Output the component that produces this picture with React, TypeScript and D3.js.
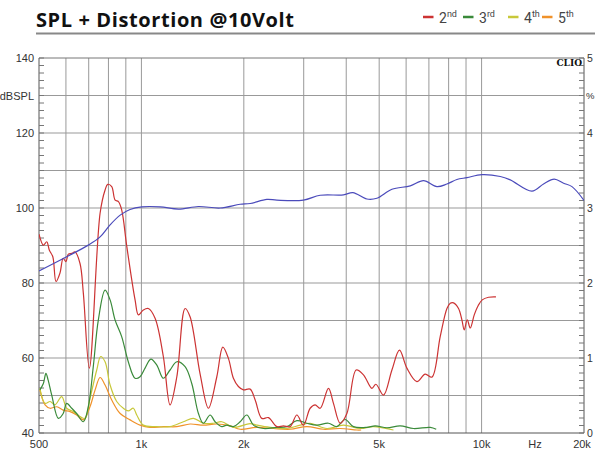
import React from "react";
import * as d3 from "d3";

// ---------- data ----------
const xTickLabels: [number, string][] = [
  [500, "500"], [1000, "1k"], [2000, "2k"], [5000, "5k"], [10000, "10k"], [20000, "20k"],
];
const xGridFreqs = [600, 700, 800, 900, 1000, 2000, 3000, 4000, 5000, 6000, 7000, 8000, 9000, 10000];
const yLeftLabels = [140, 120, 100, 80, 60, 40];
const yRightLabels = [5, 4, 3, 2, 1, 0];
const yGridValues = [50, 60, 70, 80, 90, 100, 110, 120, 130];

const splFreq = [500, 603, 698, 756, 809, 866, 926, 1002, 1135, 1285, 1471, 1704, 1951, 2087, 2338, 2501, 2994, 3354, 3926, 4185, 4600, 4922, 5450, 6170, 6750, 7390, 7910, 8460, 9060, 10020, 11350, 12140, 14060, 15210, 16350, 17420, 18440, 20000];
const splDb = [83.2, 87, 90.1, 92.3, 95.5, 98.1, 99.6, 100.3, 100.3, 99.7, 100.4, 100, 101, 101.2, 102.3, 102.1, 102.1, 103.4, 103.5, 104.1, 102.4, 102.6, 105, 105.9, 107.3, 105.7, 106.4, 107.6, 108.1, 108.9, 108.4, 107.5, 104.5, 106.4, 107.7, 106.6, 105.7, 102];

const h2Freq = [500, 515, 527, 536, 549, 561, 576, 589, 600, 610, 624, 638, 660, 675, 703, 756, 782, 796, 818, 837, 856, 875, 906, 958, 980, 1013, 1048, 1097, 1160, 1214, 1271, 1344, 1390, 1488, 1574, 1666, 1735, 1802, 1864, 1928, 1995, 2087, 2160, 2259, 2363, 2501, 2616, 2737, 2864, 2994, 3134, 3242, 3354, 3547, 3669, 3839, 4018, 4279, 4495, 4759, 4889, 5148, 5450, 5736, 6031, 6454, 6827, 7144, 7557, 7909, 8087, 8270, 8555, 8755, 8891, 9074, 9260, 9515, 9776, 10044, 10482, 11021];
const h2Db = [93, 90.1, 91, 88.8, 87, 80.4, 82.6, 86.6, 85.7, 87.7, 87.9, 88.3, 85.2, 77.3, 57.3, 98.6, 104.8, 106.3, 105.7, 102.1, 101.7, 99.5, 89.7, 75.5, 71.5, 72.8, 73.2, 70.6, 60.4, 47.5, 55, 73.2, 71, 55.7, 46.6, 55, 62.9, 59.9, 54.6, 52.4, 51.5, 51.7, 48.8, 43.9, 44.1, 41.7, 41.9, 41.7, 44.8, 42.1, 46.6, 47.5, 46.6, 51.9, 47.9, 42.6, 45.2, 56.8, 55.5, 51.9, 53, 50.1, 56.8, 62.1, 57.3, 53.7, 55.7, 54.9, 65.7, 73.2, 74.6, 74.7, 73.2, 70.1, 67.5, 70.2, 68, 71.5, 74, 75.5, 76.2, 76.3];

const h3Freq = [503, 515, 524, 532, 545, 570, 589, 603, 624, 645, 675, 698, 722, 747, 782, 809, 837, 875, 915, 958, 991, 1025, 1066, 1110, 1160, 1214, 1271, 1344, 1406, 1471, 1521, 1592, 1647, 1723, 1783, 1864, 1951, 2041, 2135, 2284, 2501, 2677, 2864, 3064, 3279, 3547, 3755, 3972, 4201, 4600, 4866, 5268, 5764, 6307, 7063, 7356];
const h3Db = [51.5, 53.2, 55.9, 54.1, 50.1, 43.9, 45.2, 47.9, 46.6, 45.2, 43, 47, 57.7, 70.1, 78.1, 75.5, 70.1, 65.7, 59, 54.6, 55, 57.3, 59.7, 58.1, 54.6, 56.8, 59, 57.7, 53.2, 45.2, 42.6, 44.8, 43, 41.7, 42.1, 41.7, 43, 44.8, 42.1, 41.2, 41.5, 41.7, 43.3, 42.6, 42.1, 42.6, 41.7, 43.6, 41.7, 41.5, 41.9, 41.4, 41.9, 41.2, 41.5, 41];

const h4Freq = [503, 521, 539, 557, 583, 603, 631, 660, 683, 706, 739, 759, 782, 809, 846, 885, 915, 947, 969, 1013, 1110, 1214, 1329, 1422, 1521, 1628, 1723, 1864, 2087, 2184, 2390, 2677, 2929, 3134, 3509, 3926, 4396, 4811, 5508];
const h4Db = [51.9, 47.9, 48.4, 47.5, 49.7, 46.6, 45.7, 44.4, 43.9, 49.2, 56.8, 60.4, 59, 52.8, 48.4, 46.6, 45.9, 46.6, 44.8, 42.1, 41.7, 41.7, 43, 43.9, 42.6, 42.6, 43, 41.5, 42.5, 42.1, 41.5, 41.2, 42.1, 42.6, 41.2, 42.1, 41.2, 41.7, 40.8];

const h5Freq = [503, 521, 539, 564, 589, 617, 645, 675, 706, 731, 756, 782, 818, 866, 926, 991, 1060, 1160, 1271, 1390, 1521, 1666, 1823, 1951, 2184, 2444, 2737, 3064, 3429, 3839, 4299, 4426];
const h5Db = [51.5, 47.5, 46.6, 47, 46.1, 45.7, 44.8, 43.5, 47, 51.5, 54.8, 52.8, 48.8, 45.2, 43.5, 42.1, 41.5, 41.7, 41.7, 42.4, 42.1, 42.4, 41.9, 41, 41.5, 41.2, 41, 41.7, 41, 41.2, 40.8, 40.8];

const legendItems = [
  { num: "2", sup: "nd", color: "#cc3333" },
  { num: "3", sup: "rd", color: "#3a8a3a" },
  { num: "4", sup: "th", color: "#c8c83a" },
  { num: "5", sup: "th", color: "#f0922a" },
];

// ---------- layout ----------
const W = 595, H = 450;
const L = 39, R = 584, T = 58, B = 433;

export default function App() {
  const x = d3.scaleLog().domain([500, 20000]).range([L, R]);
  const y = d3.scaleLinear().domain([40, 140]).range([B, T]);
  const yr = d3.scaleLinear().domain([0, 5]).range([B, T]);

  const line = d3
    .line<[number, number]>()
    .x((d) => x(d[0]))
    .y((d) => y(d[1]))
    .curve(d3.curveCatmullRom.alpha(0.5));

  const zip = (f: number[], v: number[]) => f.map((ff, i) => [ff, v[i]] as [number, number]);

  const series = [
    { f: h5Freq, v: h5Db, c: "#f0922a" },
    { f: h4Freq, v: h4Db, c: "#c8c83a" },
    { f: h3Freq, v: h3Db, c: "#3a8a3a" },
    { f: h2Freq, v: h2Db, c: "#cc3333" },
    { f: splFreq, v: splDb, c: "#4b4bbb" },
  ];

  const leftMinor = d3.range(40, 141, 2);
  const rightMinor = d3.range(0, 5.001, 0.1);

  const axisFont = "'Liberation Sans', Arial, sans-serif";
  const titleFont = "'Open Sans', Roboto, sans-serif";
  const legendFont = "Roboto, 'Noto Sans', sans-serif";

  const legendX = [423, 463, 508, 542];

  return (
    <svg width={W} height={H} style={{ position: "absolute", left: 0, top: 0, background: "#fff" }}>
      <rect x={0} y={0} width={W} height={H} fill="#fff" />
      {/* title */}
      <text x={36} y={26.5} fontFamily={titleFont} fontWeight={700} fontSize={20} letterSpacing={0.6} fill="#111">
        SPL + Distortion @10Volt
      </text>
      <line x1={36} x2={595} y1={33.5} y2={33.5} stroke="#888" strokeWidth={2} />
      {/* legend */}
      {legendItems.map((it, i) => (
        <g key={i}>
          <line x1={legendX[i]} x2={legendX[i] + 10.5} y1={17} y2={17} stroke={it.color} strokeWidth={2.5} />
          <text x={legendX[i] + 16} y={22.5} fontFamily={legendFont} fontSize={14} fill="#444">
            {it.num}
            <tspan fontSize={9} dy={-5.5}>{it.sup}</tspan>
          </text>
        </g>
      ))}

      {/* grid */}
      {yGridValues.map((v) => (
        <line key={"hg" + v} x1={L} x2={R} y1={y(v)} y2={y(v)} stroke="#999" strokeWidth={1} />
      ))}
      {xGridFreqs.map((f) => (
        <line key={"vg" + f} x1={x(f)} x2={x(f)} y1={T} y2={B} stroke="#999" strokeWidth={1} />
      ))}

      {/* frame */}
      <line x1={L} x2={R} y1={T} y2={T} stroke="#777" strokeWidth={1} />
      <line x1={L} x2={R} y1={B} y2={B} stroke="#555" strokeWidth={1} />
      <line x1={L} x2={L} y1={T} y2={B} stroke="#555" strokeWidth={1} />
      <line x1={R} x2={R} y1={T} y2={B} stroke="#555" strokeWidth={1} />
      {leftMinor.map((v) => (
        <line key={"lt" + v} x1={L} x2={L + 5} y1={y(v)} y2={y(v)} stroke="#777" strokeWidth={1} />
      ))}
      {rightMinor.map((v, i) => (
        <line key={"rt" + i} x1={R - 5} x2={R} y1={yr(v)} y2={yr(v)} stroke="#777" strokeWidth={1} />
      ))}

      {/* curves */}
      <defs>
        <clipPath id="plotclip">
          <rect x={L} y={T} width={R - L} height={B - T} />
        </clipPath>
      </defs>
      <g clipPath="url(#plotclip)">
        {series.map((s, i) => (
          <path key={i} d={line(zip(s.f, s.v)) || ""} fill="none" stroke={s.c} strokeWidth={1.2} />
        ))}
      </g>

      {/* CLIO */}
      <text x={582} y={65.5} textAnchor="end" fontFamily="'DejaVu Serif', 'Liberation Serif', serif" fontWeight={700} fontSize={9} fill="#111">
        CLIO
      </text>

      {/* left labels */}
      {yLeftLabels.map((v) => (
        <text key={"ll" + v} x={34} y={y(v) + 4} textAnchor="end" fontFamily={axisFont} fontSize={11} fill="#333">
          {v}
        </text>
      ))}
      <text x={34} y={y(130) + 4} textAnchor="end" fontFamily={axisFont} fontSize={11} fill="#333">
        dBSPL
      </text>
      {/* right labels */}
      {yRightLabels.map((v) => (
        <text key={"rl" + v} x={587} y={yr(v) + 3.5} fontFamily={axisFont} fontSize={10.5} fill="#333">
          {v}
        </text>
      ))}
      <text x={586} y={yr(4.5) + 3.5} fontFamily={axisFont} fontSize={9.5} fill="#333">
        %
      </text>
      {/* bottom labels */}
      {xTickLabels.map(([f, s]) => (
        <text key={"xl" + f} x={f === 20000 ? x(f) - 2 : x(f)} y={447.5} textAnchor="middle" fontFamily={axisFont} fontSize={11} fill="#333">
          {s}
        </text>
      ))}
      <text x={535} y={447.5} textAnchor="middle" fontFamily={axisFont} fontSize={11} fill="#333">
        Hz
      </text>
    </svg>
  );
}
